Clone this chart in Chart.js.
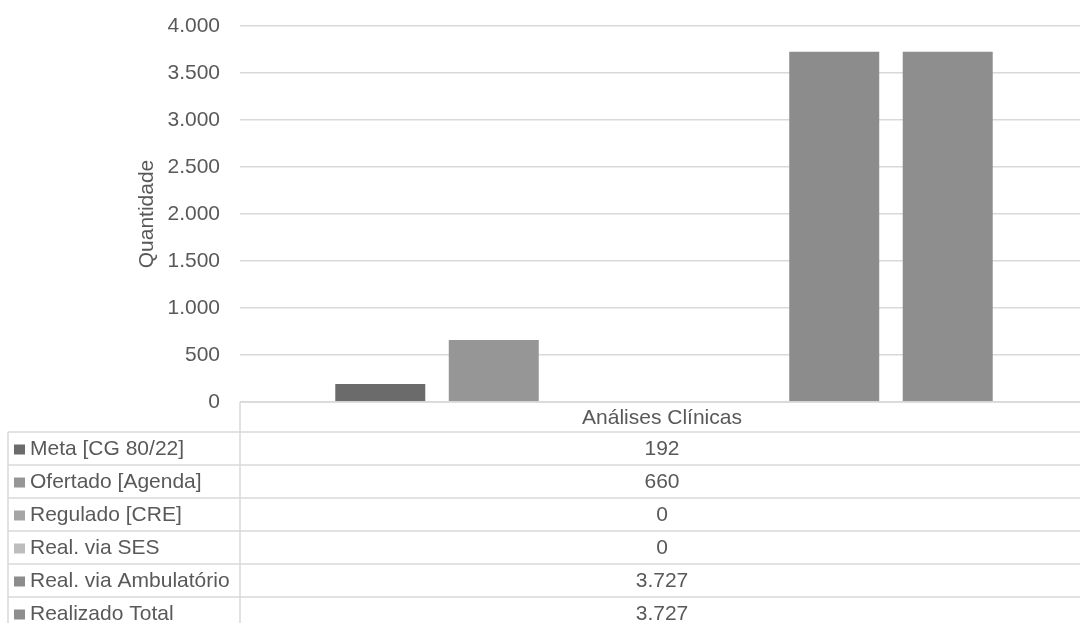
<!DOCTYPE html>
<html>
<head>
<meta charset="utf-8">
<script src="https://cdn.jsdelivr.net/npm/chart.js@4/dist/chart.umd.min.js"></script>
<style>
  html, body { margin: 0; padding: 0; background: #fff; overflow: hidden; }
  canvas { display: block; }
</style>
</head>
<body>
<canvas id="grafico" width="1088" height="623"></canvas>
<script>
// dados do gráfico
var categorias = ['Análises Clínicas']
var series = ['Meta [CG 80/22]', 'Ofertado [Agenda]', 'Regulado [CRE]', 'Real. via SES', 'Real. via Ambulatório', 'Realizado Total']
var valores = [192, 660, 0, 0, 3727, 3727]
var cores = ['#6b6b6b', '#969696', '#a5a5a5', '#bdbdbd', '#8c8c8c', '#8e8e8e']

var fonte = 'Liberation Sans, Arial, sans-serif'
var corTexto = '#595959'
var corLinha = '#d9d9d9'

function formata(n) {
    return String(n).replace(/\B(?=(\d{3})+(?!\d))/g, '.')
}

// tabela de dados abaixo do gráfico
var tabelaPlugin = {
    id: 'tabela',
    afterDraw(chart) {
        var ctx = chart.ctx
        var area = chart.chartArea
        var topo = area.bottom
        var alturaCab = 30
        var alturaLinha = 33
        var xEsq = 8
        ctx.save()
        ctx.strokeStyle = corLinha
        ctx.lineWidth = 1.5
        ctx.font = '21px ' + fonte
        ctx.fillStyle = corTexto
        ctx.textBaseline = 'middle'

        // cabeçalho
        ctx.beginPath()
        ctx.moveTo(area.left, topo)
        ctx.lineTo(chart.width, topo)
        ctx.moveTo(area.left, topo)
        ctx.lineTo(area.left, chart.height)
        ctx.stroke()
        ctx.textAlign = 'center'
        var xMeio = 662
        ctx.fillText(categorias[0], xMeio, topo + alturaCab / 2 + 1)

        var y0 = topo + alturaCab
        ctx.beginPath()
        ctx.moveTo(xEsq, y0)
        ctx.lineTo(xEsq, chart.height)
        ctx.stroke()

        series.forEach((nome, i) => {
            var y = y0 + i * alturaLinha
            ctx.beginPath()
            ctx.moveTo(xEsq, y)
            ctx.lineTo(chart.width, y)
            ctx.stroke()
            var meio = y + alturaLinha / 2 + 1
            ctx.fillStyle = cores[i]
            ctx.fillRect(14, meio - 5, 11, 10)
            ctx.fillStyle = corTexto
            ctx.textAlign = 'left'
            ctx.fillText(nome, 30, meio)
            ctx.textAlign = 'center'
            ctx.fillText(formata(chart.data.datasets[i].data[0]), xMeio, meio)
        })
        var yFim = y0 + series.length * alturaLinha
        ctx.beginPath()
        ctx.moveTo(xEsq, yFim)
        ctx.lineTo(chart.width, yFim)
        ctx.stroke()
        ctx.restore()
    }
}

var datasets = series.map((nome, i) => ({
    label: nome,
    data: [valores[i]],
    backgroundColor: cores[i],
    borderWidth: 0,
    categoryPercentage: 0.803,
    barPercentage: 0.793
}))

var ctx = document.getElementById('grafico').getContext('2d')
var grafico = new Chart(ctx, {
    type: 'bar',
    data: { labels: categorias, datasets },
    options: {
        responsive: false,
        animation: false,
        layout: { padding: { top: 0, right: 0, bottom: 221, left: 0 } },
        plugins: {
            legend: { display: false },
            tooltip: { enabled: false }
        },
        scales: {
            x: { display: false },
            y: {
                min: 0,
                max: 4000,
                afterFit: (scale) => { scale.width = 240 },
                border: { display: false },
                grid: { color: corLinha, lineWidth: 1.5, drawTicks: false },
                ticks: {
                    stepSize: 500,
                    padding: 20,
                    color: corTexto,
                    font: { family: fonte, size: 21, lineHeight: 0.57 },
                    callback: (v) => formata(v)
                },
                title: {
                    display: true,
                    text: 'Quantidade',
                    color: corTexto,
                    font: { family: fonte, size: 21 },
                    padding: { top: 135, bottom: 0 }
                }
            }
        }
    },
    plugins: [tabelaPlugin]
})
</script>
</body>
</html>
